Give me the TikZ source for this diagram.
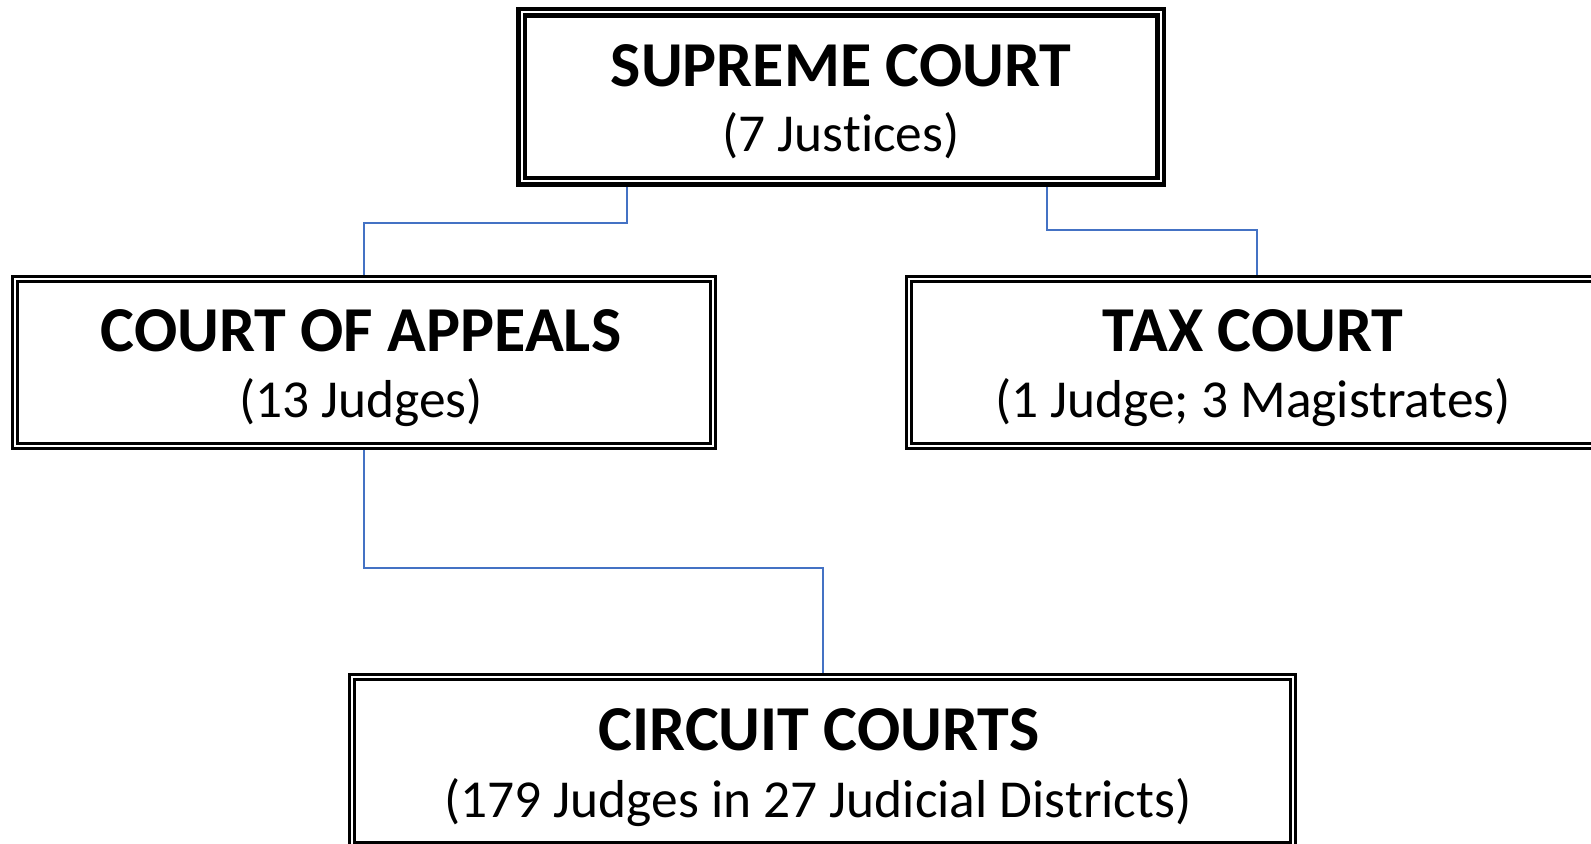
\documentclass[tikz,border=0pt]{standalone}
\usepackage{fontspec}
\setmainfont{Carlito}[Ligatures=NoCommon]
\definecolor{linkblue}{RGB}{68,114,196}
\tikzset{
  boxthick/.style={draw=black, double=white, double distance=1pt, line width=2.25pt, rectangle, inner sep=0pt, outer sep=2.75pt},
  boxnorm/.style={draw=black, double=white, double distance=1pt, line width=1.5pt, rectangle, inner sep=0pt, outer sep=2pt},
  ttl/.style={anchor=base, inner sep=0pt, font=\fontsize{32}{38}\selectfont\bfseries},
  sub/.style={anchor=base, inner sep=0pt, font=\fontsize{26.7}{32}\selectfont},
  link/.style={draw=linkblue, line width=1pt}
}
\begin{document}
\begin{tikzpicture}[x=0.5pt,y=-0.5pt]
\useasboundingbox (0,0) rectangle (1591,844);
% boxes
\node[boxthick, minimum width=319.5pt, minimum height=84.5pt] (sc) at (841,97) {};
\node[boxnorm, minimum width=349pt, minimum height=83.75pt] (ca) at (364,362.75) {};
\node[boxnorm, minimum width=344pt, minimum height=83.75pt] (tc) at (1253,362.75) {};
\node[boxnorm, minimum width=470.35pt, minimum height=83.85pt] (cc) at (822.7,761.15) {};
% texts
\node[ttl] (sct) at (841,86.5) {SUPREME COURT};
\node[sub] (scs) at (841,152) {(7 Justices)};
\node[ttl] (cat) at (361,352) {COURT OF APPEALS};
\node[sub] (cas) at (361,418) {(13 Judges)};
\node[ttl] (tct) at (1253,352) {TAX COURT};
\node[sub] (tcs) at (1253,418) {(1 Judge; 3 Magistrates)};
\node[ttl] (cct) at (819,750) {CIRCUIT COURTS};
\node[sub] (ccs) at (818,817) {(179 Judges in 27 Judicial Districts)};
% connectors
\coordinate (j1) at (627,223);
\coordinate (j2) at (1047,230);
\coordinate (j2b) at (1257,230);
\coordinate (j3) at (364,568);
\coordinate (j3b) at (822.7,568);
\draw[link] (j1 |- sc.south) -- (j1) -- (j1 -| ca.north) -- (ca.north);
\draw[link] (j2 |- sc.south) -- (j2) -- (j2b) -- (j2b |- tc.north);
\draw[link] (ca.south) -- (j3) -- (j3b) -- (cc.north);
\end{tikzpicture}
\end{document}
